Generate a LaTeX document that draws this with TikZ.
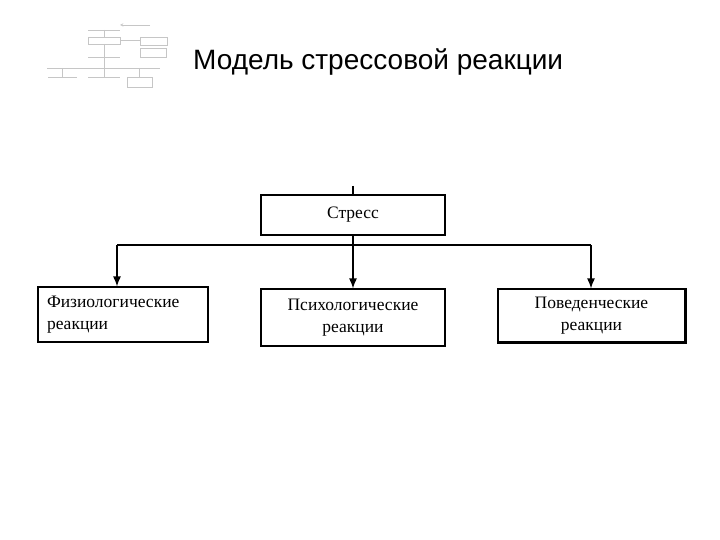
\documentclass[tikz,border=0pt]{standalone}
\usepackage{fontspec}
\setmainfont{Liberation Serif}
\newfontfamily\titlefont{Liberation Sans}
\usetikzlibrary{positioning,arrows.meta}
\tikzset{
        >={Latex[length=10pt,width=8pt]}, % filled arrow heads
        block/.style={draw, line width=1.2pt, minimum width=184pt, minimum height=40pt, inner sep=2pt, font=\fontsize{17.5}{22}\selectfont, align=center},
        link/.style={line width=1.2pt},
        thumb/.style={draw=gray!45, line width=0.5pt},
}

\begin{document}
\begin{tikzpicture}[x=1pt,y=-1pt]
\useasboundingbox (0,0) rectangle (720,540);

% small picture in the corner
\draw[thumb] (88,30) -- (120,30);
\draw[thumb,->,>=stealth] (150,25) -- (120,25);
\draw[thumb] (88,37) rectangle (120,44);
\draw[thumb] (120,40) -- (140,40);
\draw[thumb] (140,37) rectangle (167,45);
\draw[thumb] (140,48) rectangle (166,57);
\draw[thumb] (104,30) -- (104,37);
\draw[thumb] (104,44) -- (104,68);
\draw[thumb] (88,57) -- (120,57);
\draw[thumb] (47,68) -- (160,68);
\draw[thumb] (62,68) -- (62,77);
\draw[thumb] (104,68) -- (104,77);
\draw[thumb] (139,68) -- (139,77);
\draw[thumb] (48,77) -- (77,77);
\draw[thumb] (88,77) -- (120,77);
\draw[thumb] (127,77) rectangle (152,87);

\node[anchor=base west, inner sep=0pt] (title) at (193,70) {\titlefont\fontsize{28}{32}\selectfont Модель стрессовой реакции};

\node[block] (stress) at (353,215) {Стресс};
\node[block, minimum width=170pt, minimum height=55pt, align=left, text width=152pt] (physio) at (123,314.5) {Физиологические\\реакции};
\node[block, minimum height=57pt] (psycho) at (353,317.5) {Психологические\\реакции};
\node[block, minimum width=187pt, minimum height=53pt] (behav) at (591.5,315.5) {Поведенческие\\реакции};
\draw[line width=2pt] (behav.north east) -- (behav.south east) -- (behav.south west);

\coordinate (top) at (353,186);
\coordinate (busl) at (117,245);
\coordinate (busr) at (591,245);

\draw[link] (top) -- (stress.north);
\draw[link] (busl) -- (busr);
\draw[link,->] (stress.south) -- (psycho.north);
\draw[link,->] (busl) -- (busl |- physio.north);
\draw[link,->] (busr) -- (busr |- behav.north);

\end{tikzpicture}
\end{document}
